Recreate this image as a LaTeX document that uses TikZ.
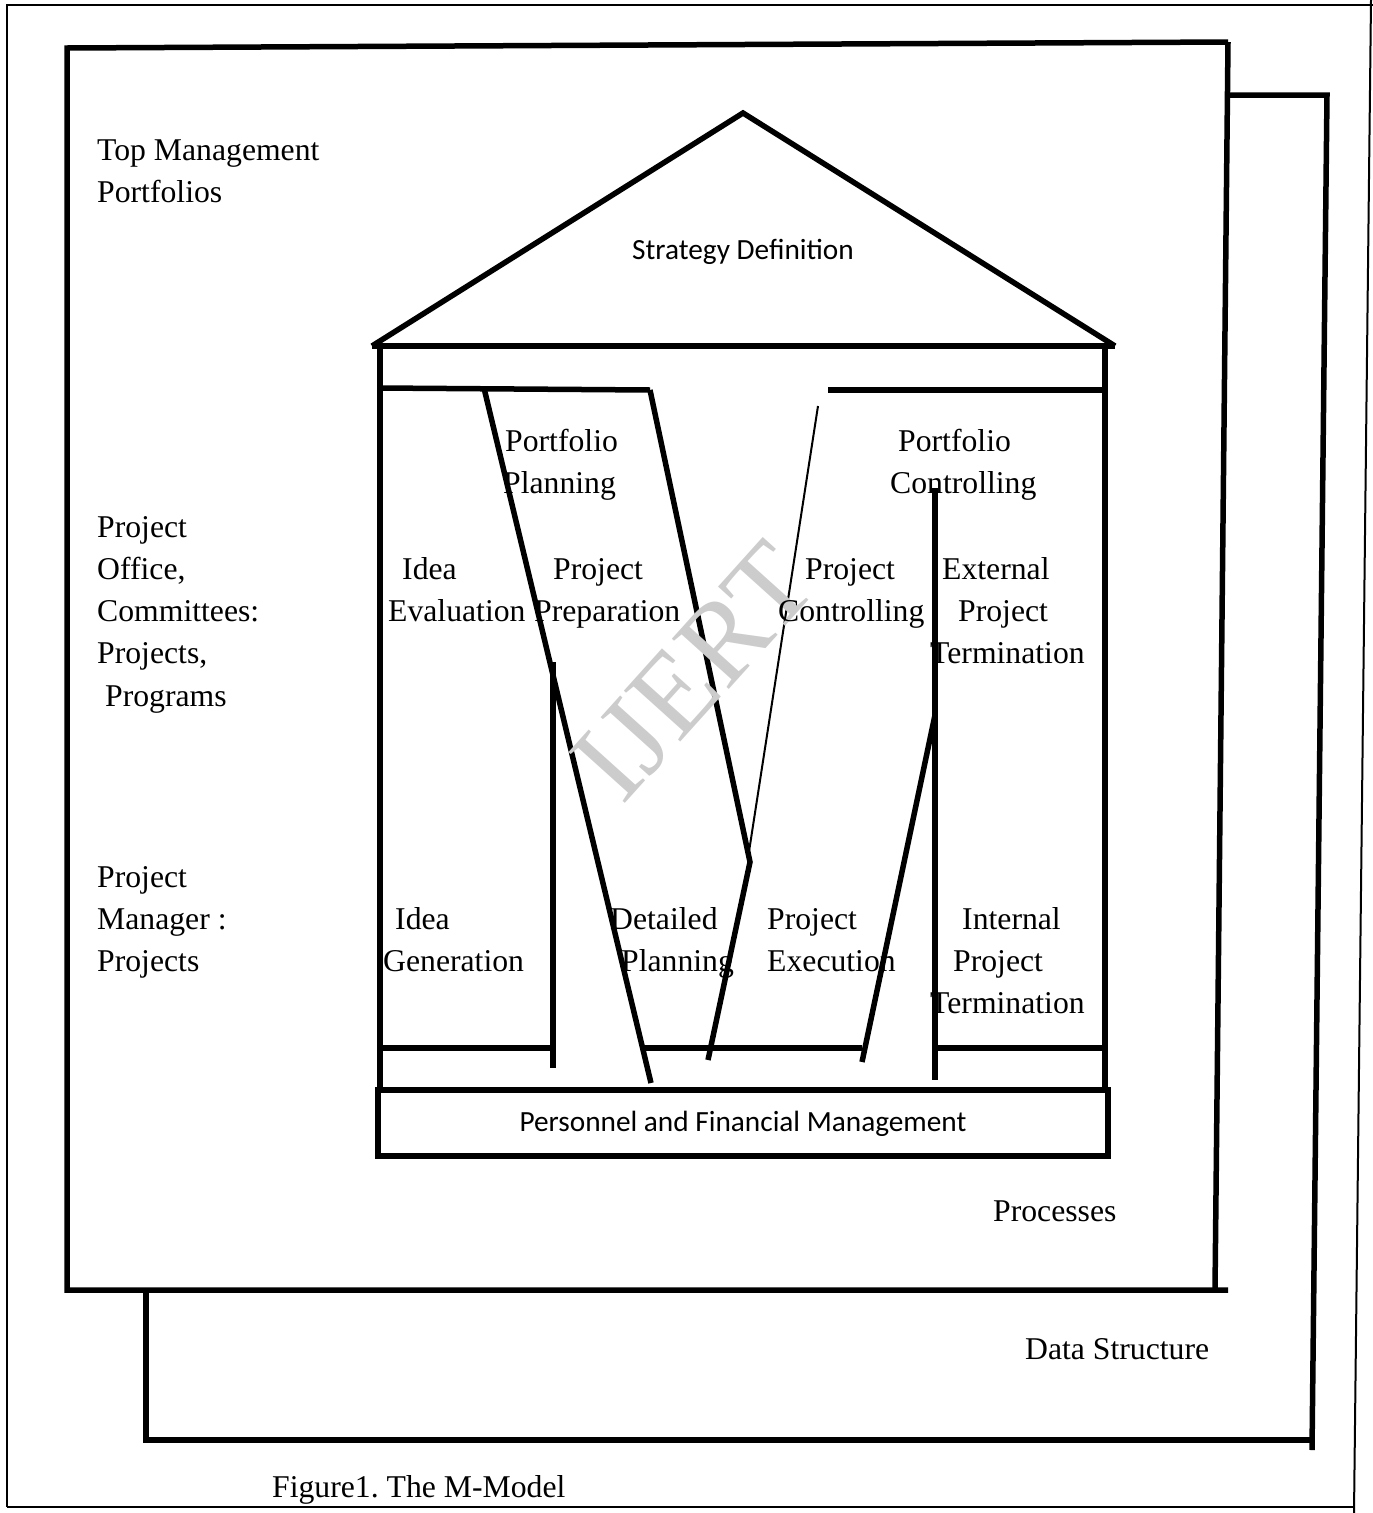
\documentclass[tikz,border=0pt]{standalone}
\usepackage{fontspec}
\setmainfont{Liberation Serif}
\newfontfamily\calibrifont{Carlito}
\frenchspacing
\begin{document}
\begin{tikzpicture}[x=1pt,y=-1pt,
  heavy/.style={line width=5.5pt},
  frameline/.style={line width=2pt},
  hairline/.style={line width=2pt},
  lbl/.style={anchor=base west,inner sep=0pt,align=left,font=\fontsize{31.7}{42.3}\selectfont},
  sanslbl/.style={anchor=base,inner sep=0pt,font=\calibrifont\fontsize{29.3}{36}\selectfont}]
\useasboundingbox (0,0) rectangle (1373,1513);

% page frame
\coordinate (pTL) at (7,5);
\coordinate (pTR) at (1373,5);
\coordinate (pBL) at (7,1507);
\coordinate (pBR) at (1355,1507);
\coordinate (pRtop) at (1371,0);
\coordinate (pRbot) at (1354,1513);
\draw[frameline] (pBL) -- (pTL) -- (pTR);
\draw[frameline] (pBL) -- (pBR);
\draw[frameline] (pRtop) -- (pRbot);

% rear sheet (data structure)
\coordinate (dTL) at (1228,95);
\coordinate (dTR) at (1327,95);
\coordinate (dBR) at (1312,1450);
\coordinate (dLtop) at (146,1290);
\coordinate (dBL) at (146,1440);
\coordinate (dBRb) at (1312,1440);
\draw[heavy] (dTL) -- (dTR) -- (dBR);
\draw[heavy] (dLtop) -- (dBL) -- (dBRb);

% front sheet (processes)
\coordinate (fTL) at (67,48);
\coordinate (fTR) at (1228,42);
\coordinate (fBL) at (67,1290);
\coordinate (fBR) at (1228,1290);
\coordinate (fRb) at (1215,1290);
\draw[heavy] (fTR) -- (fTL) -- (fBL) -- (fBR);
\draw[heavy] (fTR) -- (fRb);

% house: roof
\coordinate (apex) at (743,113);
\coordinate (eaveL) at (372,346);
\coordinate (eaveR) at (1115,346);
\draw[heavy] (eaveL) -- (apex) -- (eaveR);
\draw[heavy] (eaveL) -- (eaveR);

% house: walls
\coordinate (wLt) at (380,343);
\coordinate (wLb) at (380,1090);
\coordinate (wRt) at (1105,343);
\coordinate (wRb) at (1105,1090);
\draw[heavy] (wLt) -- (wLb);
\draw[heavy] (wRt) -- (wRb);

% upper band lines
\coordinate (bL1) at (380,388);
\coordinate (bL2) at (650,390);
\coordinate (bR1) at (828,390);
\coordinate (bR2) at (1105,390);
\draw[heavy] (bL1) -- (bL2);
\draw[heavy] (bR1) -- (bR2);

% the M strokes
\coordinate (m1t) at (484,388);
\coordinate (m1b) at (651,1083);
\coordinate (kink) at (750,862);
\coordinate (m2b) at (708,1060);
\coordinate (thinT) at (818,406);
\coordinate (thinB) at (748,858);
\coordinate (m3t) at (935,715);
\coordinate (m3b) at (862,1062);
\draw[heavy] (m1t) -- (m1b);
\draw[heavy] (bL2) -- (kink) -- (m2b);
\draw[hairline] (thinT) -- (thinB);
\draw[heavy] (m3t) -- (m3b);

% vertical dividers
\coordinate (v1t) at (553,662);
\coordinate (v1b) at (553,1068);
\coordinate (v2t) at (935,488);
\coordinate (v2b) at (935,1080);
\draw[heavy] (v1t) -- (v1b);
\draw[heavy] (v2t) -- (v2b);

% lower band lines
\coordinate (h1a) at (380,1048);
\coordinate (h1b) at (553,1048);
\coordinate (h2a) at (643,1048);
\coordinate (h2b) at (862,1048);
\coordinate (h3a) at (935,1048);
\coordinate (h3b) at (1105,1048);
\draw[heavy] (h1a) -- (h1b);
\draw[heavy] (h2a) -- (h2b);
\draw[heavy] (h3a) -- (h3b);

% foundation box
\coordinate (fdTL) at (378,1090);
\coordinate (fdBR) at (1108,1156);
\draw[heavy] (fdTL) rectangle (fdBR);

% watermark
\node[rotate=48,text=black!20,inner sep=0pt,font=\fontsize{116}{116}\selectfont] (wm) at (694,672) {IJERT};

% labels (multi-line nodes sit on the baseline of their last line)
\node[sanslbl] (strat) at (743,259) {Strategy Definition};
\node[sanslbl] (pers) at (743,1131) {Personnel and Financial Management};

\node[lbl] (topm) at (97,202.3) {Top Management\\Portfolios};
\node[lbl] (pplan) at (503,493.3) {\hspace*{2pt}Portfolio\\Planning};
\node[lbl] (pctrl) at (890,493.3) {\hspace*{8pt}Portfolio\\Controlling};
\node[lbl] (office) at (97,706.2) {Project\\Office,\\Committees:\\Projects,\\\hspace*{8pt}Programs};
\node[lbl] (ideaev) at (388,621.3) {\hspace*{14pt}Idea\\Evaluation};
\node[lbl] (pprep) at (534,621.3) {\hspace*{19pt}Project\\Preparation};
\node[lbl] (prctrl) at (778,621.3) {\hspace*{27pt}Project\\Controlling};
\node[lbl] (extterm) at (930,663.6) {\hspace*{12pt}External\\\hspace*{28pt}Project\\Termination};
\node[lbl] (mgr) at (97,971.6) {Project\\Manager :\\Projects};
\node[lbl] (ideagen) at (383,971.3) {\hspace*{12pt}Idea\\Generation};
\node[lbl] (detail) at (610,971.3) {Detailed\\\hspace*{11pt}Planning};
\node[lbl] (pexec) at (767,971.3) {Project\\Execution};
\node[lbl] (intterm) at (930,1013.6) {\hspace*{32pt}Internal\\\hspace*{23pt}Project\\Termination};
\node[lbl] (proc) at (993,1221) {Processes};
\node[lbl] (dstruct) at (1025,1359) {Data Structure};
\node[lbl] (cap) at (272,1497) {Figure1. The M-Model};
\end{tikzpicture}
\end{document}
